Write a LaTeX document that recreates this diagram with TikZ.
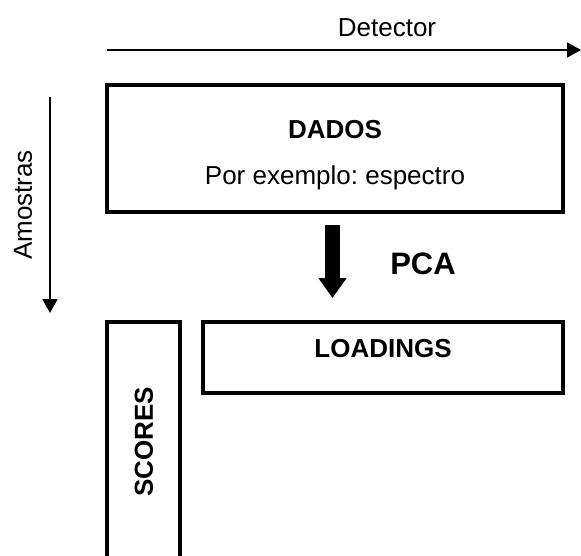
\documentclass[tikz,border=0pt]{standalone}
\usepackage{fontspec}
\setmainfont{Liberation Sans}
\usetikzlibrary{arrows.meta}
\frenchspacing

\tikzset{
  block/.style={draw,line width=2pt,inner sep=0pt},
  label/.style={inner sep=0pt,font=\fontsize{13}{15}\selectfont},
  title/.style={inner sep=0pt,font=\bfseries\fontsize{13}{15}\selectfont},
  axis/.style={line width=0.9pt,-{Triangle[width=7.5pt,length=7pt]}},
  bigarrow/.style={line width=7.5pt,-{Triangle[width=13.5pt,length=10pt]}}
}

\begin{document}
\begin{tikzpicture}[x=0.5pt,y=-0.5pt]

  % page frame
  \clip (0,0) rectangle (581,555);

  % axes
  \coordinate (det-start) at (107,50);
  \coordinate (det-end) at (581,50);
  \draw[axis] (det-start) -- (det-end);
  \node[label] (detector) at (387,27.5) {Detector};

  \coordinate (amo-start) at (50,97);
  \coordinate (amo-end) at (50,313);
  \draw[axis] (amo-start) -- (amo-end);
  \node[label,rotate=90] (amostras) at (23,205) {Amostras};

  % data block
  \node[block,minimum width=228pt,minimum height=63.5pt] (dados) at (335,148.5) {};
  \node[title] (dados-title) at (335,129.5) {DADOS};
  \node[label] (dados-sub) at (335,178) {Por exemplo: espectro};

  % PCA step
  \coordinate (pca-top) at (332.5,225);
  \coordinate (pca-tip) at (332.5,298);
  \draw[bigarrow] (pca-top) -- (pca-tip);
  \node[inner sep=0pt,font=\bfseries\fontsize{15.5}{18}\selectfont] (pca) at (423,264) {PCA};

  % results
  \node[block,minimum width=36.5pt,minimum height=125pt] (scores) at (143.5,447) {};
  \node[title,rotate=90] (scores-title) at (144,442) {SCORES};

  \node[block,minimum width=180pt,minimum height=35.5pt] (loadings) at (383,357.5) {};
  \node[title] (loadings-title) at (383,349) {LOADINGS};

\end{tikzpicture}
\end{document}
